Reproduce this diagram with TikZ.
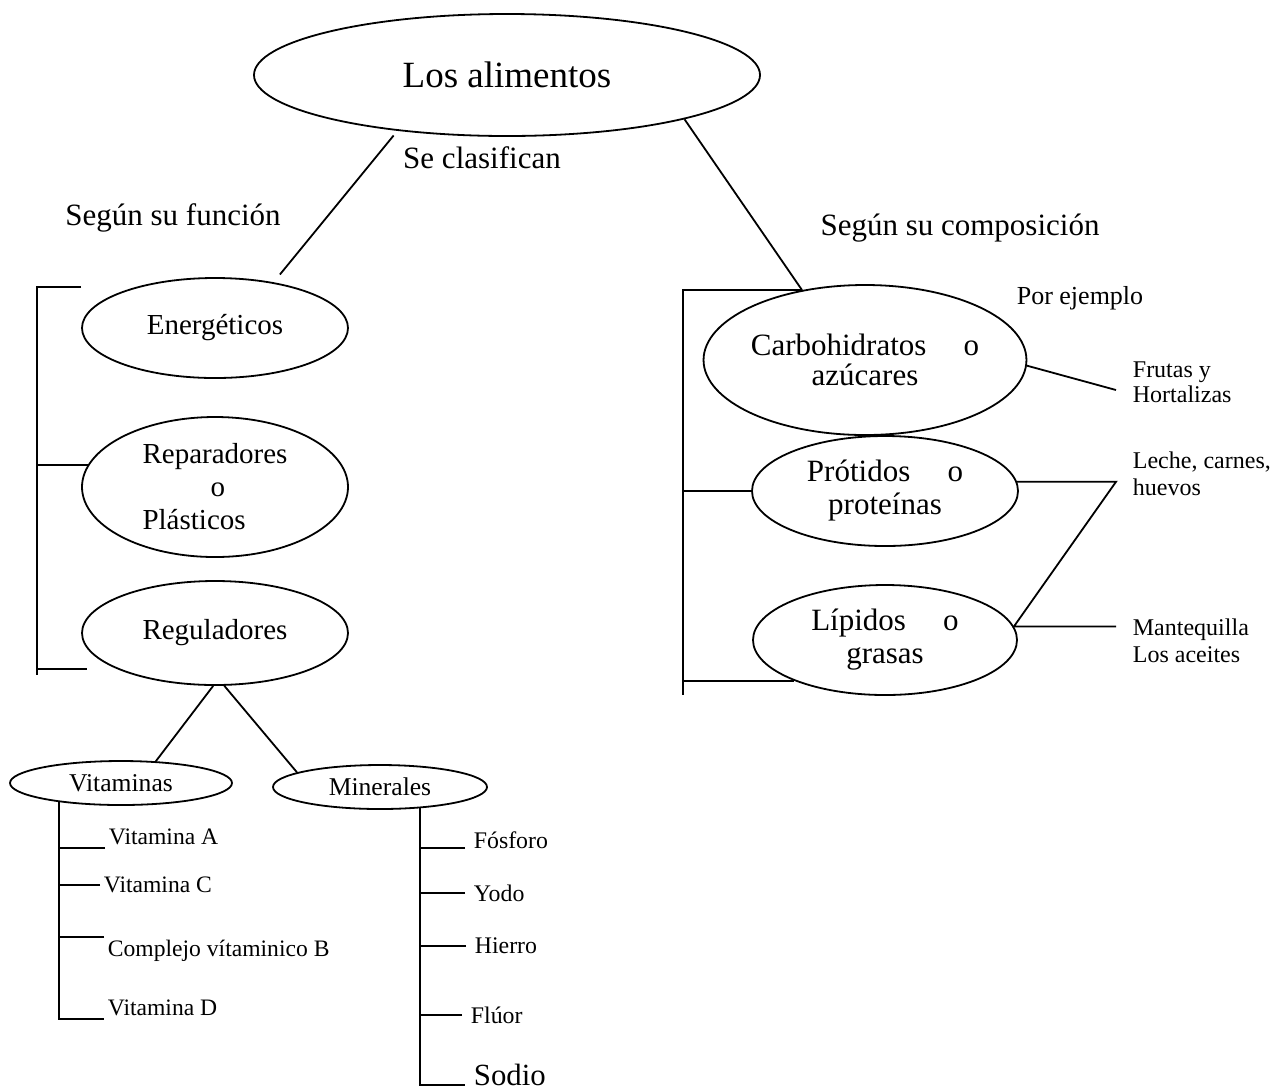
\documentclass[tikz,border=0pt]{standalone}
\usepackage{fontspec}
\setmainfont{Liberation Serif}
\usetikzlibrary{shapes.geometric}

\begin{document}
\begin{tikzpicture}[x=0.5pt,y=-0.5pt,line width=0.9pt,
        elli/.style={draw,ellipse,inner sep=0pt,align=center},
        lelli/.style={elli,minimum width=133pt,font=\fontsize{14.5}{16.5}\selectfont},
        relli/.style={elli,minimum width=133pt,font=\fontsize{15.5}{16.5}\selectfont},
        selli/.style={elli,minimum height=22pt,font=\fontsize{12.8}{14}\selectfont},
        lbl/.style={font=\fontsize{15.5}{17}\selectfont},
        vleaf/.style={inner xsep=1.5pt,inner ysep=1pt,font=\fontsize{11.8}{13}\selectfont},
        mleaf/.style={inner xsep=4pt,inner ysep=1pt,font=\fontsize{11.9}{13}\selectfont},
        rleaf/.style={anchor=west,inner xsep=8pt,inner ysep=1pt,align=left,font=\fontsize{12}{13.5}\selectfont}]
        \useasboundingbox (0,0) rectangle (1285,1089);

        % top
        \node[elli,minimum width=253pt,minimum height=61pt,font=\fontsize{18.5}{20}\selectfont] (alim) at (507,75) {Los alimentos};
        \node[lbl] (clas) at (482,158) {Se clasifican};
        \node[lbl] (func) at (173,218) {Según su función};
        \node[lbl] (comp) at (960,228) {Según su composición};

        % left side
        \node[lelli,minimum height=50pt] (ener) at (215,328) {Energéticos};
        \node[lelli,minimum height=70pt,align=left] (repa) at (215,487) {Reparadores\\\hspace*{34pt}o\\Plásticos};
        \node[lelli,minimum height=52pt] (regu) at (215,633) {Reguladores};
        \node[selli,minimum width=111pt] (vita) at (121,783) {Vitaminas};
        \node[selli,minimum width=107pt] (mine) at (380,787) {Minerales};

        \node[vleaf,anchor=south west] (vA) at (105,848) {Vitamina A};
        \node[vleaf,anchor=west] (vC) at (100,885) {Vitamina C};
        \node[vleaf,anchor=north west] (vB) at (104,937) {Complejo vítaminico B};
        \node[vleaf,anchor=south west] (vD) at (104,1019) {Vitamina D};

        \node[mleaf,anchor=base west] (fosf) at (465,848) {Fósforo};
        \node[mleaf,anchor=west] (yodo) at (465,893) {Yodo};
        \node[mleaf,anchor=west] (hier) at (466,946) {Hierro};
        \node[mleaf,anchor=west] (fluo) at (462,1015) {Flúor};
        \node[mleaf,anchor=base west,font=\fontsize{15.4}{17}\selectfont] (sodi) at (465,1085) {Sodio};

        % right side
        \node[relli,minimum height=75pt,minimum width=134pt,font=\fontsize{15.5}{15}\selectfont] (carb) at (865,360) {Carbohidratos\hspace{1.2em}o\\azúcares};
        \node[relli,minimum height=55pt] (prot) at (885,491) {Prótidos\hspace{1.2em}o\\proteínas};
        \node[relli,minimum height=55pt,minimum width=132pt] (lipi) at (885,640) {Lípidos\hspace{1.2em}o\\grasas};

        \node[font=\fontsize{13}{15}\selectfont] (ejem) at (1080,298) {Por ejemplo};
        \node[rleaf,font=\fontsize{12}{12.5}\selectfont] (frut) at (1116,382) {Frutas y\\Hortalizas};
        \node[rleaf] (lech) at (1116,474) {Leche, carnes,\\huevos};
        \node[rleaf] (mant) at (1116,641) {Mantequilla\\Los aceites};

        \coordinate (ltop) at (37,287);
        \coordinate (lbot) at (37,675);
        \coordinate (rbot) at (683,695);

        % connectors
        \draw[shorten <=3pt,shorten >=5pt] (alim.207) -- (ener.38);
        \draw (alim.-14) -- (carb.132);

        \draw (ener.west |- ltop) -- (ltop) -- (lbot);
        \draw (repa.170) -- (repa.170 -| ltop);
        \draw[shorten <=15pt] (regu.200) -- (regu.200 -| lbot);

        \draw (carb.132) -| (rbot);
        \draw (prot.west) -- (prot.west -| rbot);
        \draw (lipi.204) -- (lipi.204 -| rbot);

        \draw (regu.268) -- (vita.32);
        \draw (regu.280) -- (mine.170);

        \draw (vita.197) |- (vD.south west);
        \draw (vA.south west) -- (vA.south west -| vita.197);
        \draw (vC.west) -- (vC.west -| vita.197);
        \draw (vB.north west) -- (vB.north west -| vita.197);

        \draw (mine.-28) |- (sodi.base west);
        \draw (fosf.base west) -- (fosf.base west -| mine.-28);
        \draw (yodo.west) -- (yodo.west -| mine.-28);
        \draw (hier.west) -- (hier.west -| mine.-28);
        \draw (fluo.west) -- (fluo.west -| mine.-28);

        \draw (carb.-2) -- ([yshift=-4pt]frut.west);
        \draw (prot.4) -- (prot.4 -| lech.west) -- (lipi.6) -- (lipi.6 -| mant.west);
    \end{tikzpicture}
\end{document}
